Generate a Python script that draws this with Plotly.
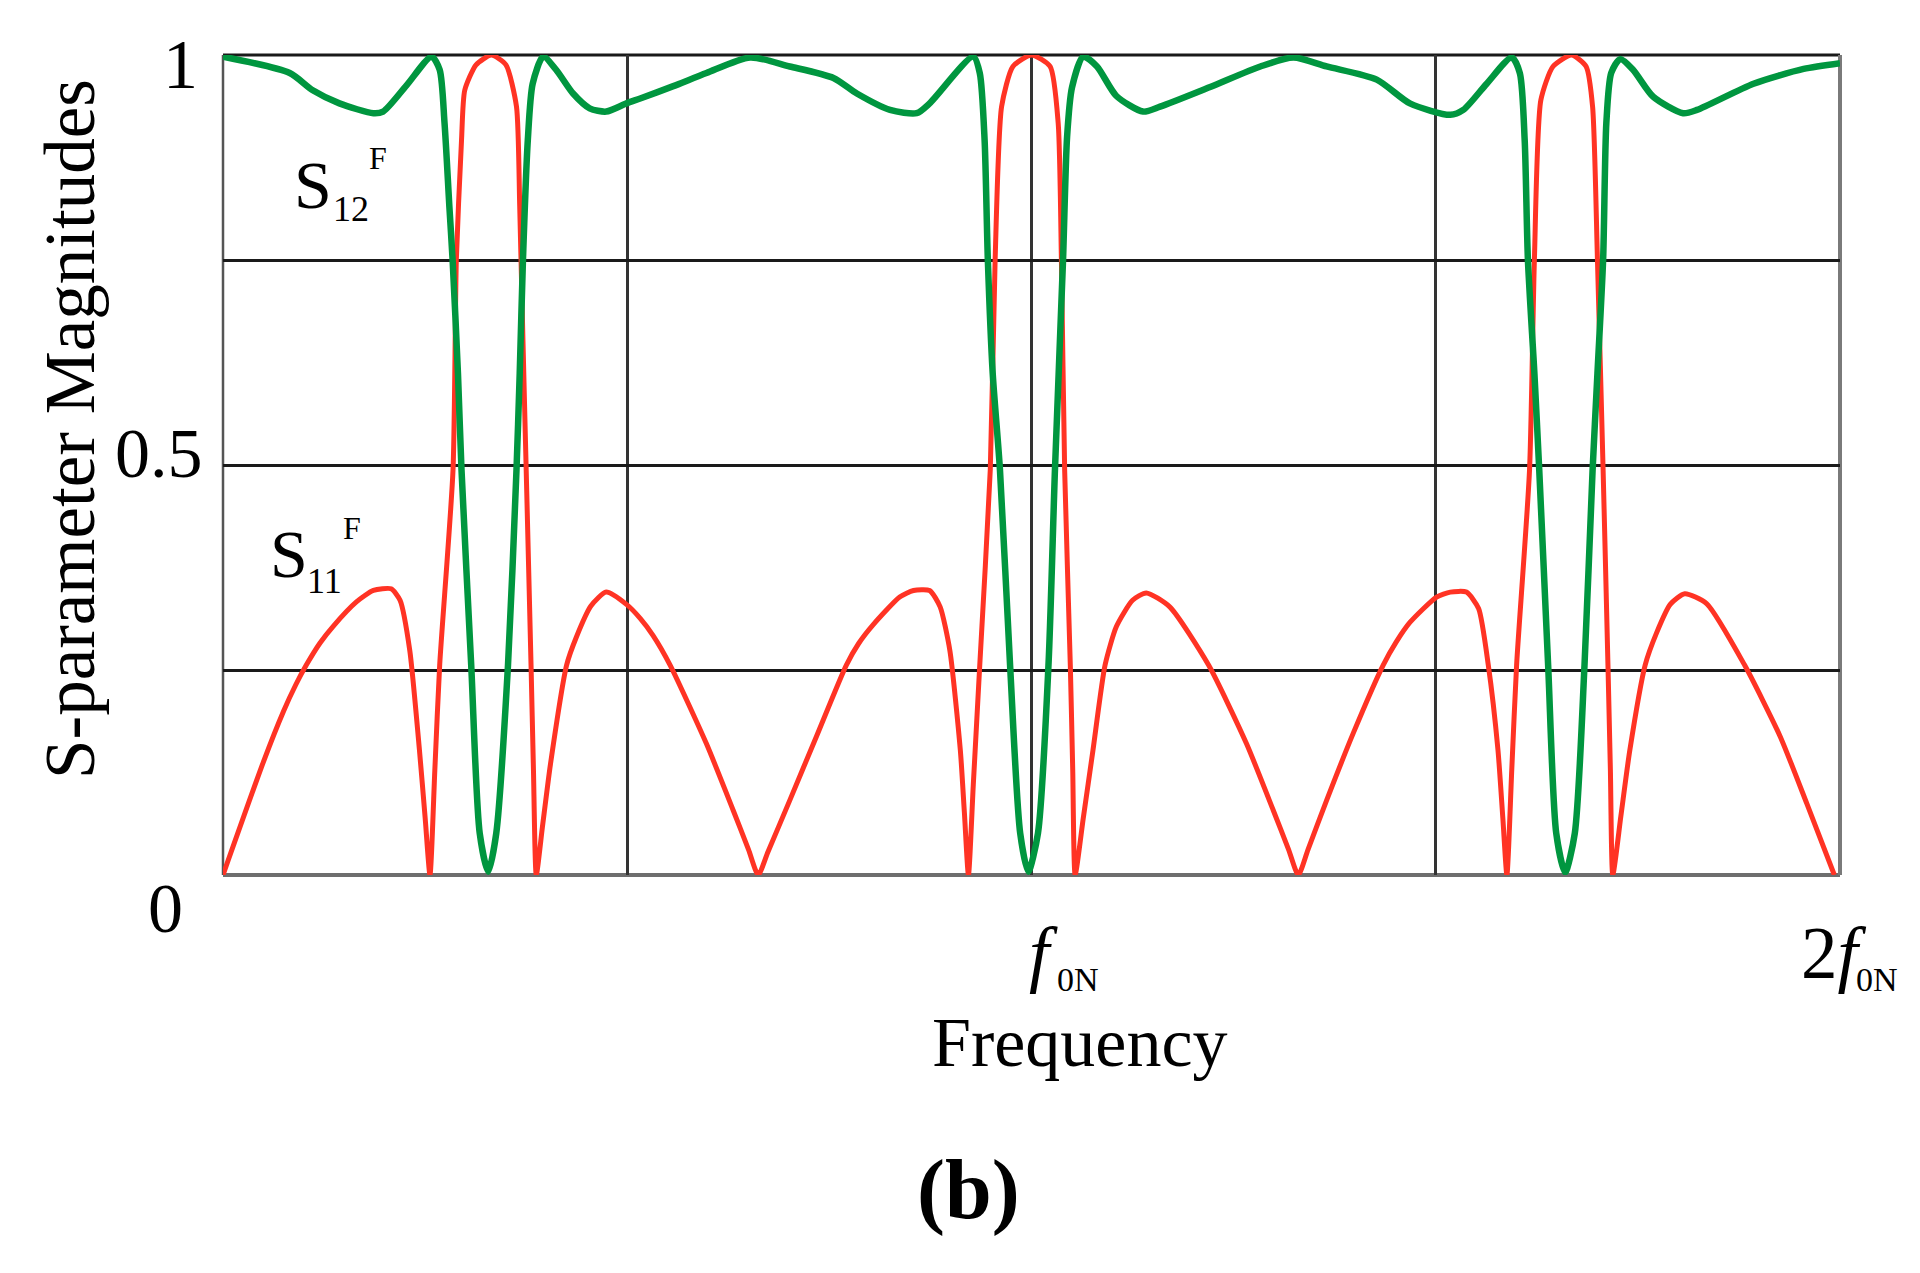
import plotly.graph_objects as go

# ---------------- data ----------------
# |S11^F| (red)
s11_freq = [0.000, 0.050, 0.075, 0.090, 0.103, 0.120, 0.136, 0.165, 0.186, 0.208, 0.219, 0.231, 0.243, 0.250, 0.256,
            0.262, 0.268, 0.2845, 0.2886, 0.295, 0.299, 0.313, 0.332, 0.350, 0.363, 0.367, 0.371, 0.375, 0.381, 0.384, 0.3875,
            0.395, 0.405, 0.425, 0.437, 0.455, 0.474, 0.499, 0.516, 0.532, 0.553, 0.598, 0.631, 0.650, 0.662,
            0.674, 0.701, 0.734, 0.771, 0.786, 0.804, 0.837, 0.854, 0.874, 0.887, 0.899, 0.912, 0.917, 0.922,
            0.928, 0.936, 0.949, 0.955, 0.963, 0.977, 1.000, 1.023, 1.033, 1.037, 1.041, 1.048, 1.051, 1.054,
            1.064, 1.076, 1.091, 1.105, 1.125, 1.142, 1.171, 1.219, 1.266, 1.299, 1.318, 1.330,
            1.342, 1.365, 1.398, 1.435, 1.451, 1.468, 1.501, 1.518, 1.538, 1.553, 1.565, 1.577, 1.583, 1.588,
            1.594, 1.600, 1.616, 1.622, 1.630, 1.645, 1.668, 1.686, 1.694, 1.700, 1.707, 1.713, 1.716, 1.719,
            1.729, 1.740, 1.759, 1.773, 1.790, 1.808, 1.835, 1.882, 1.926, 1.959, 1.993]
s11_mag = [0.000, 0.138, 0.200, 0.232, 0.256, 0.283, 0.303, 0.333, 0.347, 0.349, 0.335, 0.274, 0.152, 0.070, 0.000,
           0.128, 0.256, 0.494, 0.750, 0.896, 0.957, 0.988, 1.000, 0.988, 0.937, 0.815, 0.652, 0.494, 0.256, 0.128, 0.000,
           0.058, 0.135, 0.256, 0.290, 0.328, 0.345, 0.330, 0.313, 0.292, 0.256, 0.160, 0.079, 0.031, 0.000,
           0.028, 0.091, 0.169, 0.256, 0.282, 0.305, 0.339, 0.347, 0.347, 0.327, 0.274, 0.152, 0.076, 0.000,
           0.110, 0.256, 0.494, 0.750, 0.937, 0.986, 1.000, 0.986, 0.917, 0.750, 0.494, 0.256, 0.128, 0.000,
           0.069, 0.152, 0.256, 0.303, 0.335, 0.344, 0.327, 0.256, 0.160, 0.079, 0.031, 0.000,
           0.031, 0.091, 0.173, 0.256, 0.284, 0.308, 0.339, 0.345, 0.345, 0.325, 0.256, 0.152, 0.069, 0.000,
           0.128, 0.256, 0.494, 0.750, 0.945, 0.986, 1.000, 0.986, 0.937, 0.750, 0.494, 0.256, 0.128, 0.000,
           0.072, 0.152, 0.256, 0.295, 0.330, 0.343, 0.331, 0.256, 0.169, 0.087, 0.000]

# |S12^F| (green)
s12_freq = [0.000, 0.0825, 0.111, 0.144, 0.186, 0.198, 0.227, 0.258,
            0.268, 0.274, 0.280, 0.284, 0.2906, 0.295, 0.307, 0.3175, 0.328, 0.338, 0.3525, 0.363, 0.367, 0.371, 0.377, 0.383, 0.396,
            0.412, 0.433, 0.4535, 0.474, 0.499, 0.516, 0.557, 0.598, 0.652, 0.701, 0.755, 0.784, 0.825, 0.858, 0.874, 0.928,
            0.936, 0.942, 0.946, 0.952, 0.961, 0.9735, 0.986, 0.996, 1.008, 1.021, 1.029, 1.039, 1.044, 1.050, 1.064,
            1.081, 1.105, 1.138, 1.159, 1.221, 1.283, 1.324, 1.365, 1.427, 1.468, 1.518, 1.534, 1.563, 1.594,
            1.604, 1.610, 1.614, 1.622, 1.628, 1.639, 1.649, 1.660, 1.672, 1.684, 1.694, 1.700, 1.707, 1.711, 1.717, 1.728,
            1.744, 1.769, 1.806, 1.823, 1.893, 1.955, 2.000]
s12_mag = [0.998, 0.978, 0.957, 0.941, 0.929, 0.931, 0.963, 0.998,
           0.982, 0.917, 0.815, 0.750, 0.612, 0.494, 0.256, 0.051, 0.004, 0.051, 0.256, 0.494, 0.612, 0.750, 0.896, 0.965, 0.998,
           0.982, 0.953, 0.935, 0.931, 0.941, 0.947, 0.962, 0.978, 0.997, 0.986, 0.972, 0.953, 0.933, 0.929, 0.941, 0.998,
           0.978, 0.896, 0.750, 0.612, 0.494, 0.256, 0.051, 0.004, 0.051, 0.256, 0.494, 0.750, 0.900, 0.960, 0.998,
           0.986, 0.950, 0.931, 0.937, 0.961, 0.986, 0.997, 0.986, 0.970, 0.941, 0.927, 0.933, 0.965, 0.997,
           0.978, 0.896, 0.750, 0.612, 0.494, 0.256, 0.051, 0.003, 0.051, 0.256, 0.494, 0.612, 0.750, 0.917, 0.978, 0.995,
           0.982, 0.949, 0.929, 0.933, 0.965, 0.983, 0.990]

x_grid = [0.5, 1.0, 1.5]
y_grid = [0.25, 0.5, 0.75]
y_tick_vals = [1, 0.5, 0]
y_tick_text = ["1", "0.5", "0"]
x_tick_vals = [1, 2]
x_tick_main = ["<i>f</i>", "2<i>f</i>"]
x_tick_sub = ["0N", "0N"]

# ---------------- layout geometry (page pixels) ----------------
OFF = 8                      # default body margin of the html page
W, H = 1920 - OFF, 1273 - OFF
PL, PR, PT, PB = 223, 1840, 55, 875   # plot area in page pixels
FONT = "Liberation Serif, Times New Roman, serif"
RED = "#ff3324"
GREEN = "#00963f"


def px(xpix, ypix):
    return (xpix - PL) / (PR - PL), (PB - ypix) / (PB - PT)


fig = go.Figure()
fig.add_trace(go.Scatter(x=s11_freq, y=s11_mag, mode="lines", name="S11F",
                         line=dict(color=RED, width=5, shape="spline", smoothing=0.6),
                         showlegend=False, hoverinfo="skip"))
fig.add_trace(go.Scatter(x=s12_freq, y=s12_mag, mode="lines", name="S12F",
                         line=dict(color=GREEN, width=6.5, shape="spline", smoothing=0.7),
                         showlegend=False, hoverinfo="skip"))

ann = []
# y tick labels
y_tick_xpix = [180.5, 159, 165.5]
y_tick_ypix = [64.5, 453.5, 908]
for val, txt, xp_, yp_ in zip(y_tick_vals, y_tick_text, y_tick_xpix, y_tick_ypix):
    gx, gy = px(xp_, yp_)
    ann.append(dict(text=txt, x=gx, y=gy, xref="paper", yref="paper", showarrow=False,
                    xanchor="center", yanchor="middle", font=dict(family=FONT, size=70, color="black")))

# x tick labels
x_main_shift = [12, -6.5]
x_sub_shift = [46, 36.5]
for val, m, s, ms, ss in zip(x_tick_vals, x_tick_main, x_tick_sub, x_main_shift, x_sub_shift):
    _, gy = px(0, 953)
    ann.append(dict(text=m, x=val, y=gy, xref="x", yref="paper", xshift=ms, showarrow=False,
                    xanchor="center", yanchor="middle", font=dict(family=FONT, size=73, color="black")))
    _, gy2 = px(0, 980)
    ann.append(dict(text=s, x=val, y=gy2, xref="x", yref="paper", xshift=ss, showarrow=False,
                    xanchor="center", yanchor="middle", font=dict(family=FONT, size=34, color="black")))

# axis titles
gx, gy = px(1079, 1042)
ann.append(dict(text="Frequency", x=gx, y=gy, xref="paper", yref="paper", showarrow=False,
                xanchor="center", yanchor="middle", font=dict(family=FONT, size=70, color="black")))
gx, gy = px(70, 429)
ann.append(dict(text="S-parameter Magnitudes", x=gx, y=gy, xref="paper", yref="paper", showarrow=False,
                textangle=-90, xanchor="center", yanchor="middle",
                font=dict(family=FONT, size=71, color="black")))
gx, gy = px(968, 1190)
ann.append(dict(text="<b>(b)</b>", x=gx, y=gy, xref="paper", yref="paper", showarrow=False,
                xanchor="center", yanchor="middle", font=dict(family=FONT, size=84, color="black")))

# curve labels  S12^F and S11^F
labels = [
    ("S", 312.5, 184.5, 68), ("12", 350.5, 208.6, 36), ("F", 378, 158.3, 32),
    ("S", 289, 553.5, 68), ("11", 324.5, 580.6, 36), ("F", 352, 528.3, 32),
]
for txt, xp_, yp_, sz in labels:
    gx, gy = px(xp_, yp_)
    ann.append(dict(text=txt, x=gx, y=gy, xref="paper", yref="paper", showarrow=False,
                    xanchor="center", yanchor="middle", font=dict(family=FONT, size=sz, color="black")))

# plot frame
shapes = [
    dict(type="line", xref="paper", yref="paper", x0=0, x1=1, y0=1, y1=1, line=dict(color="#1a1a1a", width=3), layer="between"),
    dict(type="line", xref="paper", yref="paper", x0=0, x1=1, y0=0, y1=0, line=dict(color="#6e6e6e", width=4), layer="between"),
    dict(type="line", xref="paper", yref="paper", x0=0, x1=0, y0=0, y1=1, line=dict(color="#555555", width=2.5), layer="between"),
    dict(type="line", xref="paper", yref="paper", x0=1, x1=1, y0=0, y1=1, line=dict(color="#7a7a7a", width=4), layer="between"),
]

fig.update_layout(
    width=W, height=H,
    margin=dict(l=PL - OFF, r=(W + OFF) - PR, t=PT - OFF, b=(H + OFF) - PB, pad=0),
    paper_bgcolor="white", plot_bgcolor="white",
    xaxis=dict(range=[0, 2], tickvals=x_grid, showticklabels=False, ticks="",
               showgrid=True, gridcolor="#333333", gridwidth=3, zeroline=False, showline=False,
               fixedrange=True),
    yaxis=dict(range=[0, 1], tickvals=y_grid, showticklabels=False, ticks="",
               showgrid=True, gridcolor="#1a1a1a", gridwidth=3, zeroline=False, showline=False,
               fixedrange=True),
    annotations=ann,
    shapes=shapes,
    showlegend=False,
)

fig.write_html("out.html")
